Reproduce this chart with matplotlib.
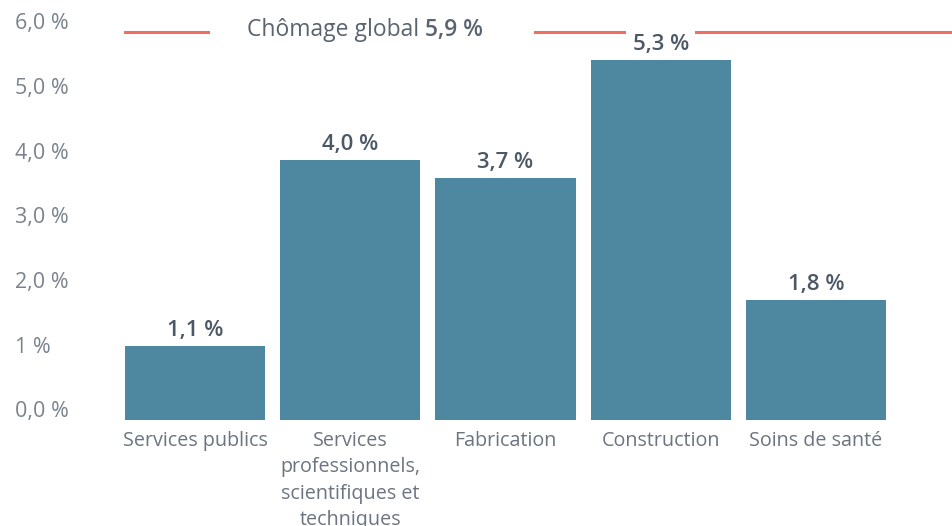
import matplotlib.pyplot as plt
import matplotlib.transforms as mtransforms
import numpy as np

# données
categories = ['Services publics', 'Services\nprofessionnels,\nscientifiques et\ntechniques',
              'Fabrication', 'Construction', 'Soins de santé']
hauteurs = [1.15, 4.02, 3.74, 5.56, 1.86]
etiquettes = ['1,1 %', '4,0 %', '3,7 %', '5,3 %', '1,8 %']
chomage_global = 6.0
chomage_texte = '5,9 %'
yticks = [0, 1, 2, 3, 4, 5, 6]
ytick_labels = ['0,0 %', '1 %', '2,0 %', '3,0 %', '4,0 %', '5,0 %', '6,0 %']

plt.rcParams['font.family'] = ['Open Sans', 'DejaVu Sans']

fig = plt.figure(figsize=(9.53, 5.26), dpi=100)
ax = fig.add_axes([117.5 / 953, 106 / 526, 1 - 117.5 / 953, 420 / 526])

x = np.arange(len(categories))
bars = ax.bar(x, hauteurs, width=0.903, color='#4d87a0', zorder=2)

ax.set_xlim(-0.5, 4.884)
ax.set_ylim(0, 420 / 64.7)

# ligne du chômage global (avec un trou pour le texte)
ax.plot([-0.452, 0.084], [chomage_global] * 2, color='#ef6f63', lw=2.2, zorder=1)
ax.plot([2.19, 4.884], [chomage_global] * 2, color='#ef6f63', lw=2.2, zorder=1)
ax.text(1.484, chomage_global + 0.03, 'Chômage global ', ha='right', va='center',
        fontsize=16.5, color='#5a6470')
ax.text(1.484, chomage_global + 0.03, chomage_texte, ha='left', va='center',
        fontsize=16.5, color='#5a6470', fontweight='semibold')

# étiquettes des barres (fond blanc seulement près de la ligne, sous les barres)
for b, lab in zip(bars, etiquettes):
    fond = dict(boxstyle='square,pad=0.3', fc='white', ec='none') if b.get_height() > 5 else None
    ax.annotate(lab, (b.get_x() + b.get_width() / 2, b.get_height()),
                xytext=(0, 3.5), textcoords='offset points', ha='center', va='bottom',
                fontsize=16, color='#4d5866', fontweight='semibold', zorder=1.5, bbox=fond)

# axe x
ax.set_xticks(x)
ax.set_xticklabels(categories, fontsize=14.2, color='#6b7480', linespacing=1.42)
ax.tick_params(axis='x', length=0, pad=8)

# axe y : étiquettes alignées à gauche
ax.set_yticks([])
trans = mtransforms.blended_transform_factory(fig.transFigure, ax.transData)
decal = mtransforms.ScaledTranslation(0, 8 / 100, fig.dpi_scale_trans)
for v, lab in zip(yticks, ytick_labels):
    ax.text(15 / 953, v, lab, transform=trans + decal, ha='left', va='center',
            fontsize=15.5, color='#7a838d')

for s in ax.spines.values():
    s.set_visible(False)

fig.savefig('out.png', dpi=100)
